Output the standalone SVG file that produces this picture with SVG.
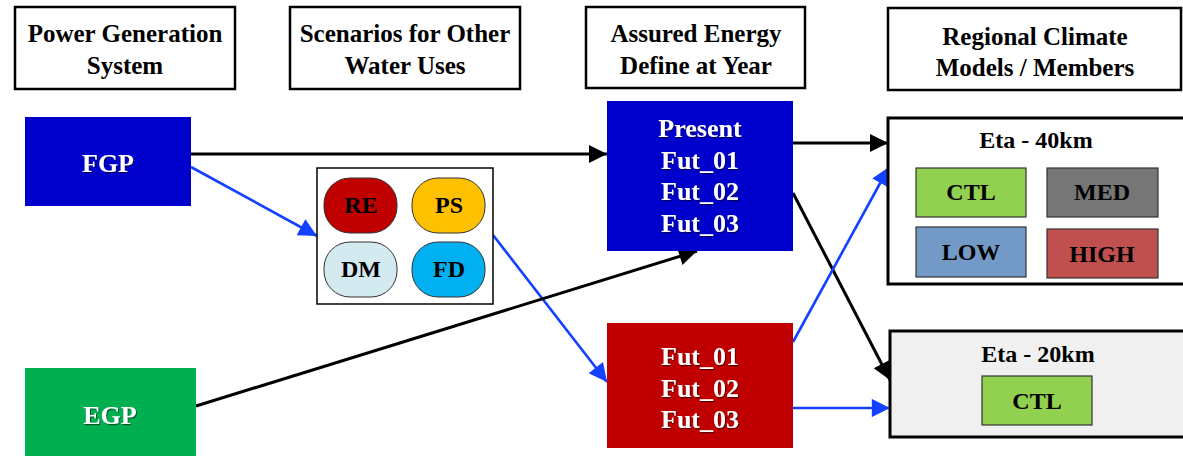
<svg xmlns="http://www.w3.org/2000/svg" width="1183" height="456" viewBox="0 0 1183 456">
<style>
text{font-family:"Liberation Serif","Times New Roman",serif;font-weight:bold;text-anchor:middle}
.hdr rect{fill:#fff;stroke:#000;stroke-width:2.5}
.hdr text{font-size:25px;fill:#000}
.wt{fill:#fff;font-size:26px;filter:url(#sh)}
.pill{stroke:#333;stroke-width:1}
.pill-t{font-size:24px;fill:#000}
.sub{stroke:#333;stroke-width:1.2}
.sub-t{font-size:24px;fill:#000}
.ttl{font-size:24px;fill:#000}
.cb{stroke:#000;stroke-width:3;fill:none}
.cu{stroke:#1440FF;stroke-width:2.6;fill:none}
</style>
<defs>
<filter id="sh" x="-10%" y="-10%" width="130%" height="140%"><feDropShadow dx="1" dy="1.2" stdDeviation="0.7" flood-color="#000" flood-opacity="0.55"/></filter>
<marker id="ab" viewBox="0 0 10 10" refX="10" refY="5" markerWidth="7" markerHeight="6" markerUnits="strokeWidth" orient="auto"><path d="M0,0 L10,5 L0,10 z" fill="#000"/></marker>
<marker id="au" viewBox="0 0 10 10" refX="10" refY="5" markerWidth="8" markerHeight="7" markerUnits="strokeWidth" orient="auto"><path d="M0,0 L10,5 L0,10 z" fill="#1440FF"/></marker>
</defs>

<g id="hdr-power" class="hdr"><rect x="15" y="7" width="220" height="82"/><text x="125" y="42">Power Generation</text><text x="125" y="74">System</text></g>
<g id="hdr-scen" class="hdr"><rect x="290" y="7" width="230" height="82"/><text x="405" y="42">Scenarios for Other</text><text x="405" y="74">Water Uses</text></g>
<g id="hdr-assured" class="hdr"><rect x="586" y="7" width="219" height="81"/><text x="696" y="42">Assured Energy</text><text x="696" y="74">Define at Year</text></g>
<g id="hdr-rcm" class="hdr"><rect x="888" y="8" width="293" height="82"/><text x="1035" y="45">Regional Climate</text><text x="1035" y="76">Models / Members</text></g>

<g id="connectors">
<line class="cb" x1="191" y1="154" x2="607" y2="154" marker-end="url(#ab)"/>
<line class="cu" x1="191" y1="167" x2="317" y2="236" marker-end="url(#au)"/>
<line class="cu" x1="493" y1="235" x2="607" y2="382" marker-end="url(#au)"/>
<line class="cb" x1="196" y1="406" x2="697" y2="251" marker-end="url(#ab)"/>
<line class="cb" x1="793" y1="143" x2="888" y2="143" marker-end="url(#ab)"/>
<line class="cb" x1="793" y1="193" x2="890" y2="380" marker-end="url(#ab)"/>
<line class="cu" x1="793" y1="342" x2="889" y2="167" marker-end="url(#au)"/>
<line class="cu" x1="793" y1="408" x2="890" y2="408" marker-end="url(#au)"/>
</g>

<g id="fgp"><rect x="25" y="117" width="166" height="89" fill="#0000CC"/><text class="wt" x="108" y="172">FGP</text></g>
<g id="egp"><rect x="25" y="368" width="171" height="90" fill="#00B050"/><text class="wt" x="110" y="424">EGP</text></g>

<g id="scenarios">
<rect x="317" y="168" width="176" height="136" fill="#fff" stroke="#000" stroke-width="1.5"/>
<rect class="pill" x="324" y="178" width="73" height="55" rx="26" ry="26" fill="#C00000"/><text class="pill-t" x="361" y="213">RE</text>
<rect class="pill" x="412" y="178" width="73" height="55" rx="26" ry="26" fill="#FFC000"/><text class="pill-t" x="449" y="213">PS</text>
<rect class="pill" x="324" y="242" width="73" height="55" rx="26" ry="26" fill="#D2EAF0"/><text class="pill-t" x="361" y="277">DM</text>
<rect class="pill" x="412" y="242" width="73" height="55" rx="26" ry="26" fill="#00B0F0"/><text class="pill-t" x="449" y="277">FD</text>
</g>

<g id="present"><rect x="607" y="101" width="186" height="150" fill="#0000CC"/>
<text class="wt" x="700" y="137">Present</text><text class="wt" x="700" y="169">Fut_01</text><text class="wt" x="700" y="200">Fut_02</text><text class="wt" x="700" y="232">Fut_03</text></g>

<g id="future"><rect x="607" y="323" width="186" height="125" fill="#C00000"/>
<text class="wt" x="700" y="365">Fut_01</text><text class="wt" x="700" y="397">Fut_02</text><text class="wt" x="700" y="428">Fut_03</text></g>

<g id="eta40"><rect x="888" y="118" width="300" height="166" fill="#fff" stroke="#000" stroke-width="3"/>
<text class="ttl" x="1036" y="148">Eta - 40km</text>
<rect class="sub" x="916" y="168" width="110" height="49" fill="#92D050"/><text class="sub-t" x="971" y="200">CTL</text>
<rect class="sub" x="1047" y="168" width="111" height="49" fill="#767676"/><text class="sub-t" x="1102" y="200">MED</text>
<rect class="sub" x="916" y="227" width="110" height="50" fill="#7399C6"/><text class="sub-t" x="971" y="260">LOW</text>
<rect class="sub" x="1047" y="229" width="111" height="49" fill="#C0504D"/><text class="sub-t" x="1102" y="262">HIGH</text>
</g>

<g id="eta20"><rect x="890" y="331" width="298" height="106" fill="#F0F0F0" stroke="#000" stroke-width="3"/>
<text class="ttl" x="1038" y="362">Eta - 20km</text>
<rect class="sub" x="982" y="376" width="110" height="49" fill="#92D050"/><text class="sub-t" x="1037" y="409">CTL</text>
</g>
</svg>
